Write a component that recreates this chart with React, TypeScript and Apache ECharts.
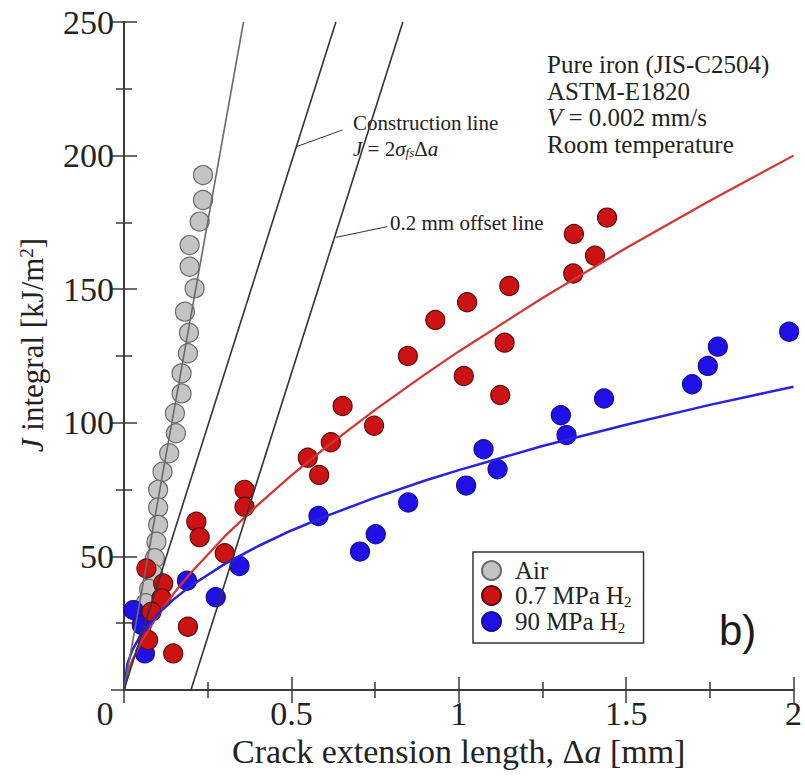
import React, { useEffect, useRef } from "react";
import * as echarts from "echarts";

const SERIF = "'Liberation Serif', 'Times New Roman', serif";

// Measured data (Δa [mm], J [kJ/m²])
const airPoints: [number, number][] = [
  [0.236, 192.7], [0.236, 183.4], [0.226, 175.3], [0.196, 166.5], [0.196, 158.4],
  [0.211, 150.3], [0.182, 141.6], [0.194, 133.7], [0.191, 126.0], [0.172, 118.5],
  [0.172, 111.0], [0.152, 103.6], [0.155, 96.1], [0.135, 88.6], [0.115, 81.7],
  [0.102, 74.9], [0.102, 68.3], [0.102, 61.8], [0.097, 55.5], [0.092, 49.3],
  [0.087, 43.5], [0.075, 37.8], [0.065, 32.5],
];
const lowH2Points: [number, number][] = [
  [0.067, 45.5], [0.117, 39.9], [0.112, 34.3], [0.082, 29.3], [0.072, 18.7],
  [0.147, 13.7], [0.191, 23.7], [0.216, 63.0], [0.226, 57.2], [0.301, 51.2],
  [0.36, 74.9], [0.36, 68.6], [0.549, 86.9], [0.583, 80.5], [0.618, 92.7],
  [0.653, 106.3], [0.747, 98.9], [0.848, 125.0], [0.93, 138.5], [1.015, 117.5],
  [1.025, 145.1], [1.124, 110.4], [1.137, 130.0], [1.151, 151.2], [1.342, 155.9],
  [1.344, 170.7], [1.407, 162.5], [1.443, 176.8],
];
const highH2Points: [number, number][] = [
  [0.028, 29.9], [0.053, 24.3], [0.0625, 13.7], [0.188, 40.9], [0.274, 34.7],
  [0.345, 46.4], [0.581, 65.1], [0.705, 51.8], [0.752, 58.3], [0.849, 70.2],
  [1.022, 76.5], [1.074, 90.1], [1.116, 82.6], [1.305, 102.8], [1.322, 95.4],
  [1.434, 109.1], [1.697, 114.4], [1.744, 121.3], [1.774, 128.5], [1.987, 134.1],
];

// Fitted curves
const fitX = [0, 0.01, 0.025, 0.05, 0.1, 0.15, 0.2, 0.3, 0.4, 0.5, 0.6, 0.75, 0.9, 1, 1.25, 1.5, 1.75, 2];
const lowH2FitJ = [0, 6.1, 11.2, 17.6, 27.8, 36.4, 43.9, 57.4, 69.3, 80.3, 90.5, 104.8, 118.2, 126.7, 146.7, 165.4, 183.1, 200];
const highH2FitJ = [0, 9.7, 14.9, 20.5, 28.3, 34.1, 39.0, 47.1, 53.8, 59.7, 64.9, 72.0, 78.4, 82.3, 91.3, 99.3, 106.7, 113.5];

// Reference lines
const airLine: [number, number][] = [[0, 0], [0.357, 250]];
const constructionLine: [number, number][] = [[0, 0], [0.633, 250]];
const offsetLine: [number, number][] = [[0.2, 0], [0.833, 250]];
const constructionLeader: [number, number][] = [[0.653, 209.6], [0.514, 203.3]];
const offsetLeader: [number, number][] = [[0.786, 173.4], [0.633, 169.4]];

const xMin = 0, xMax = 2, xInterval = 0.5;
const yMin = 0, yMax = 250, yInterval = 50;

const seriesNames = ["Air", "0.7 MPa H2", "90 MPa H2"];

export default function App() {
  const ref = useRef<HTMLDivElement>(null);
  useEffect(() => {
    document.body.style.margin = "0";
    const chart = echarts.init(ref.current!, null, { renderer: "svg" });
    const axisLine = { show: true, lineStyle: { color: "#3a3a3a", width: 2 } };
    const tick = { show: true, inside: true, length: 13, lineStyle: { color: "#3a3a3a", width: 1.5 } };
    const minor = { show: true, splitNumber: 2, length: 8, lineStyle: { color: "#3a3a3a", width: 1.5 } };
    const lineSeries = (data: [number, number][], color: string, width: number) => ({
      type: "line", data, showSymbol: false, symbol: "none", silent: true,
      lineStyle: { color, width }, z: 3,
    });
    const fit = (ys: number[]) => fitX.map((x, i) => [x, ys[i]] as [number, number]);
    const option: any = {
      animation: false,
      backgroundColor: "#ffffff",
      grid: { left: 124, right: 9, top: 22, bottom: 87, containLabel: false },
      xAxis: [
        {
          type: "value", min: xMin, max: xMax, interval: xInterval,
          axisLine, axisTick: tick, minorTick: minor, splitLine: { show: false },
          axisLabel: {
            margin: 6, fontSize: 34, fontFamily: SERIF, color: "#222",
            formatter: (v: number) => (v === 0 ? "{z|0}" : String(v)),
            rich: { z: { fontSize: 34, fontFamily: SERIF, color: "#222", padding: [0, 38, 0, 0] } },
          },
          name: "{n|Crack extension length, Δ}{i|a}{n| [mm]}",
          nameLocation: "middle", nameGap: 43,
          nameTextStyle: {
            rich: {
              n: { fontSize: 34, fontFamily: SERIF, color: "#222" },
              i: { fontSize: 34, fontFamily: SERIF, color: "#222", fontStyle: "italic" },
            },
          },
        },
        {
          type: "value", position: "top", min: xMin, max: xMax, interval: xInterval,
          axisLine, axisTick: tick, minorTick: minor, splitLine: { show: false },
          axisLabel: { show: false },
        },
      ],
      yAxis: [
        {
          type: "value", min: yMin, max: yMax, interval: yInterval,
          axisLine, axisTick: tick, minorTick: minor, splitLine: { show: false },
          axisLabel: {
            margin: 10, fontSize: 34, fontFamily: SERIF, color: "#222",
            formatter: (v: number) => (v === 0 ? "" : String(v)),
          },
          name: "{i|J}{n| integral [kJ/m}{s|2}{n|]}",
          nameLocation: "middle", nameRotate: 90, nameGap: 76,
          nameTextStyle: {
            padding: [0, 0, 0, 22],
            rich: {
              n: { fontSize: 31, fontFamily: SERIF, color: "#222" },
              i: { fontSize: 31, fontFamily: SERIF, color: "#222", fontStyle: "italic" },
              s: { fontSize: 19, fontFamily: SERIF, color: "#222", verticalAlign: "top" },
            },
          },
        },
        {
          type: "value", position: "right", min: yMin, max: yMax, interval: yInterval,
          axisLine, axisTick: tick, minorTick: minor, splitLine: { show: false },
          axisLabel: { show: false },
        },
      ],
      legend: {
        orient: "vertical", left: 473, top: 552,
        data: seriesNames,
        itemWidth: 19, itemHeight: 19, itemGap: 0,
        borderColor: "#333", borderWidth: 1.5, borderRadius: 0,
        padding: [6, 12, 8, 8],
        backgroundColor: "#fff",
        formatter: (name: string) =>
          name === "Air" ? "{n|Air}" : `{n|${name.slice(0, -1)}}{s|2}`,
        textStyle: {
          rich: {
            n: { fontSize: 25, fontFamily: SERIF, color: "#222", lineHeight: 27, padding: [0, 0, 0, 9] },
            s: { fontSize: 15, fontFamily: SERIF, color: "#222", verticalAlign: "bottom", lineHeight: 27 },
          },
        },
      },
      series: [
        {
          name: seriesNames[0], type: "scatter", data: airPoints, symbol: "circle", symbolSize: 19,
          itemStyle: { color: "#c4c4c4", borderColor: "#6a6a6a", borderWidth: 1.2, opacity: 1 },
        },
        {
          name: seriesNames[2], type: "scatter", data: highH2Points, symbol: "circle", symbolSize: 19,
          itemStyle: { color: "#2010e8", borderColor: "#160a90", borderWidth: 1.2, opacity: 1 },
        },
        {
          name: seriesNames[1], type: "scatter", data: lowH2Points, symbol: "circle", symbolSize: 19,
          itemStyle: { color: "#cc1212", borderColor: "#600808", borderWidth: 1.2, opacity: 1 },
        },
        lineSeries(fit(lowH2FitJ), "#d63333", 2.2),
        lineSeries(fit(highH2FitJ), "#2a22dd", 2.5),
        lineSeries(airLine, "#6a6a6a", 1.6),
        lineSeries(constructionLine, "#333333", 1.6),
        lineSeries(offsetLine, "#333333", 1.6),
        lineSeries(constructionLeader, "#333333", 1),
        lineSeries(offsetLeader, "#333333", 1),
      ],
      graphic: [
        {
          type: "text", left: 547, top: 52,
          style: { text: "Pure iron (JIS-C2504)", fontSize: 25, fontFamily: SERIF, fill: "#222" },
        },
        {
          type: "text", left: 547, top: 79,
          style: { text: "ASTM-E1820", fontSize: 25, fontFamily: SERIF, fill: "#222" },
        },
        {
          type: "text", left: 547, top: 105,
          style: {
            text: "{i|V} = 0.002 mm/s", fontSize: 25, fontFamily: SERIF, fill: "#222",
            rich: { i: { fontSize: 25, fontFamily: SERIF, fontStyle: "italic", fill: "#222" } },
          },
        },
        {
          type: "text", left: 547, top: 132,
          style: { text: "Room temperature", fontSize: 25, fontFamily: SERIF, fill: "#222" },
        },
        {
          type: "text", left: 353, top: 112,
          style: { text: "Construction line", fontSize: 21, fontFamily: SERIF, fill: "#222" },
        },
        {
          type: "text", left: 353, top: 138,
          style: {
            text: "{i|J} = 2{i|σ}{s|fs}Δ{i|a}", fontSize: 21, fontFamily: SERIF, fill: "#222",
            rich: {
              i: { fontSize: 21, fontFamily: SERIF, fontStyle: "italic", fill: "#222" },
              s: { fontSize: 13, fontFamily: SERIF, fontStyle: "italic", fill: "#222", verticalAlign: "bottom" },
            },
          },
        },
        {
          type: "text", left: 390, top: 212,
          style: { text: "0.2 mm offset line", fontSize: 21, fontFamily: SERIF, fill: "#222" },
        },
        {
          type: "text", left: 719, top: 609,
          style: { text: "b)", fontSize: 42, fontFamily: "'Liberation Sans', Arial, sans-serif", fill: "#1a1a1a" },
        },
      ],
    };
    chart.setOption(option);
    return () => chart.dispose();
  }, []);
  return <div ref={ref} style={{ width: 805, height: 777 }} />;
}
